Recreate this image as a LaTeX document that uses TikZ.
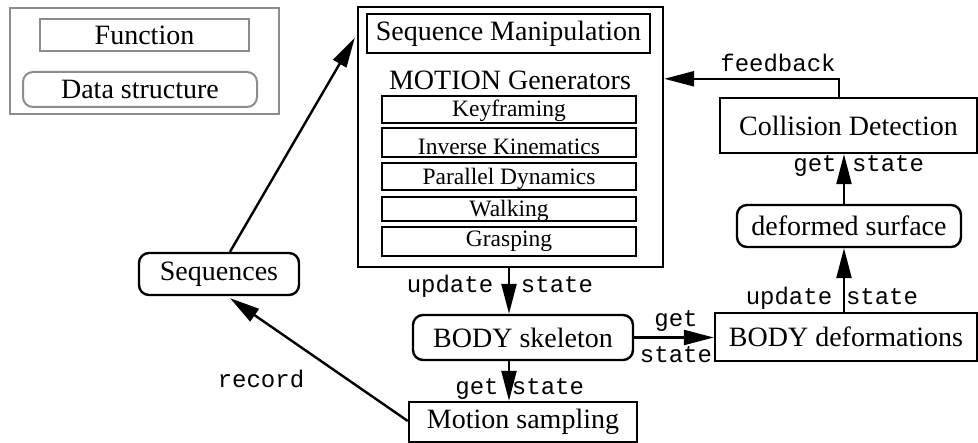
\documentclass[tikz,border=0pt]{standalone}
\usepackage{fontspec}
\setmainfont{Liberation Serif}
\setmonofont{Liberation Mono}
\usetikzlibrary{arrows.meta}

\tikzset{
  x=1pt, y=-1pt,
  boxbase/.style={draw=black, line width=2.4pt, inner sep=0pt, align=center,
    font=\fontsize{28}{32}\selectfont},
  func/.style={boxbase, rectangle},
  data/.style={boxbase, rectangle, rounded corners=10pt},
  genbox/.style={draw=black, line width=2.4pt, inner sep=0pt, minimum width=254pt,
    text depth=0pt, font=\fontsize{23.5}{26}\selectfont},
  legendbox/.style={draw=gray!90, line width=2pt, inner sep=0pt,
    font=\fontsize{28}{32}\selectfont},
  call/.style={font=\ttfamily\fontsize{24}{26}\selectfont, anchor=base, inner sep=0pt},
  arr/.style={line width=2.4pt, -{Triangle[length=30pt,width=15pt]}},
  plain/.style={line width=2.4pt}
}

\begin{document}
\begin{tikzpicture}
\useasboundingbox (0,0) rectangle (978,443);

% legend
\node[legendbox, minimum width=269pt, minimum height=106pt] (legend) at (144.5,61) {};
\node[legendbox, minimum width=209pt, minimum height=32pt] (lfunc) at (144.5,35) {Function};
\node[legendbox, rounded corners=10pt, minimum width=234pt, minimum height=35pt] (ldata) at (140,89.5) {Data structure};

% motion generation block
\node[func, minimum width=305pt, minimum height=260pt] (main) at (510.5,137) {};
\node[func, minimum width=283pt, minimum height=39pt] (seqm) at (508.5,33.5) {Sequence Manipulation};
\node[inner sep=0pt, font=\fontsize{28}{32}\selectfont] (mgen) at (510,80) {MOTION Generators};
\node[genbox, minimum height=27pt, text height=15pt] (kf) at (509,109.5) {Keyframing};
\node[genbox, minimum height=29pt, text height=25pt] (ik) at (509,142.5) {Inverse Kinematics};
\node[genbox, minimum height=27pt, text height=17pt] (pd) at (509,176.5) {Parallel Dynamics};
\node[genbox, minimum height=24pt, text height=16pt] (walk) at (509,209) {Walking};
\node[genbox, minimum height=29pt, text height=11pt] (grasp) at (509,241.5) {Grasping};

% other blocks
\node[func, minimum width=257pt, minimum height=55pt] (coll) at (848.5,125.5) {Collision Detection};
\node[data, minimum width=224pt, minimum height=42pt] (dsurf) at (849,226) {deformed surface};
\node[func, minimum width=262pt, minimum height=48pt] (bdef) at (846,337) {BODY deformations};
\node[data, minimum width=220pt, minimum height=45pt] (bskel) at (523,337.5) {BODY skeleton};
\node[func, minimum width=228pt, minimum height=40pt] (msamp) at (523,422) {Motion sampling};
\node[data, minimum width=160pt, minimum height=42pt] (seqs) at (219,274) {Sequences};

% connectors
\draw[arr] ([xshift=11pt]seqs.north) -- ([yshift=-32pt,xshift=-2pt]main.north west);
\draw[arr] ([yshift=1pt]msamp.west) -- ([xshift=11pt,yshift=-2pt]seqs.south);
\draw[arr] ([xshift=-1.5pt]main.south) -- ([xshift=-1.5pt]main.south |- bskel.north);
\draw[arr] ([xshift=-1.5pt]main.south |- bskel.south) -- ([xshift=-1.5pt]main.south |- msamp.north);
\draw[arr] (bskel.east) -- (bdef.west |- bskel.east);
\draw[arr] ([xshift=-5pt]dsurf.south |- bdef.north) -- ([xshift=-5pt]dsurf.south);
\draw[arr] ([xshift=-5pt]dsurf.north) -- ([xshift=-5pt]dsurf.north |- coll.south);
\draw[arr] ([xshift=-9.5pt]coll.north) |- ([yshift=-73pt]main.north east);

% call labels
\node[call] (fb) at (778,72) {feedback};
\node[call] (cget) at (815,172) {get};
\node[call] (cstate) at (888,172) {state};
\node[call] (dupd) at (789,305) {update};
\node[call] (dstate) at (882,305) {state};
\node[call] (sget) at (676,327) {get};
\node[call] (sstate) at (676,363) {state};
\node[call] (mupd) at (450,293) {update};
\node[call] (mstate) at (557,293) {state};
\node[call] (bget) at (477,395) {get};
\node[call] (bstate) at (548,395) {state};
\node[call] (rec) at (261,388) {record};
\end{tikzpicture}
\end{document}
